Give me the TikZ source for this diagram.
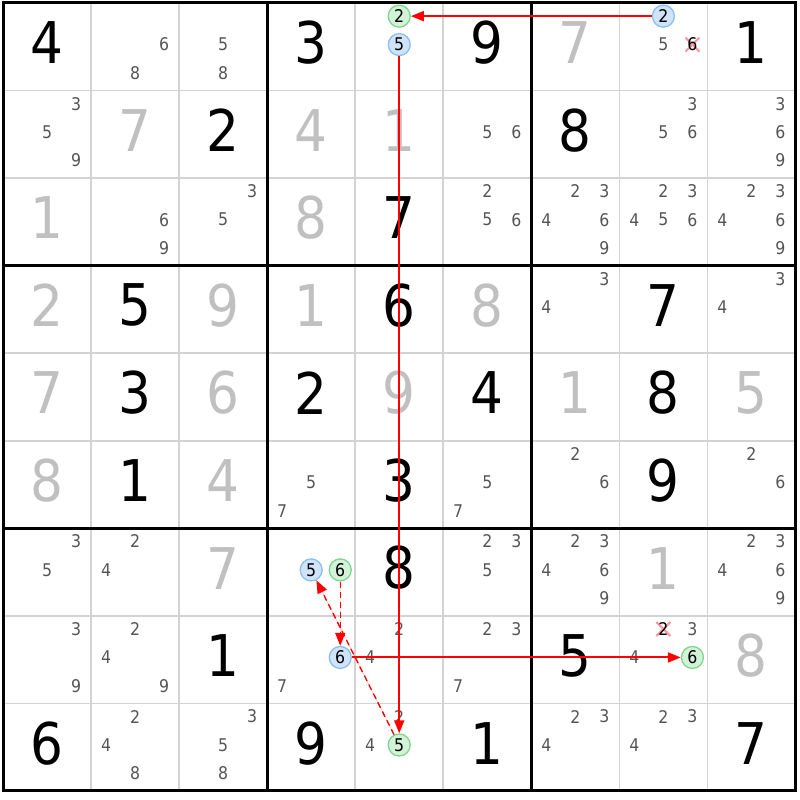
\documentclass[tikz,border=0pt]{standalone}
\usepackage{fontspec}
\setmainfont{DejaVu Sans Condensed}
\usepackage{xcolor}
\usetikzlibrary{arrows.meta}

\definecolor{solvedgray}{RGB}{192,192,192}
\definecolor{candgray}{RGB}{85,85,85}
\definecolor{thingray}{RGB}{211,211,211}
\definecolor{onfill}{RGB}{207,228,248}
\definecolor{ondraw}{RGB}{140,190,238}
\definecolor{offfill}{RGB}{210,243,216}
\definecolor{offdraw}{RGB}{128,214,140}
\definecolor{crosspink}{RGB}{245,150,160}
\definecolor{linkred}{RGB}{255,0,0}

\newcommand{\givendigit}[3]{\node[given] (v#1#2) at (#2+0.5,#1+0.454) {#3};}
\newcommand{\solved}[3]{\node[solved] (v#1#2) at (#2+0.5,#1+0.454) {#3};}
\newcommand{\cands}[4][]{%
  \foreach \d in {#4} {%
    \pgfmathsetmacro{\dx}{(mod(\d-1,3)-1)*0.33}%
    \pgfmathtruncatemacro{\rw}{(\d-1)/3}%
    \pgfmathsetmacro{\dy}{-0.35+0.325*\rw}%
    \node[cand,#1] (n#2#3\d) at (#3+0.5+\dx,#2+0.5+\dy) {\d};
  }}
\newcommand{\strikecand}[3]{%
  \pgfmathsetmacro{\dx}{(mod(#3-1,3)-1)*0.33}%
  \pgfmathtruncatemacro{\rw}{(#3-1)/3}%
  \pgfmathsetmacro{\dy}{-0.35+0.325*\rw}%
  \coordinate (x#1#2#3) at (#2+0.5+\dx,#1+0.5+\dy);
  \draw[crossline] ([shift={(-7pt,-7pt)}]x#1#2#3) -- ([shift={(7pt,7pt)}]x#1#2#3);
  \draw[crossline] ([shift={(-7pt,7pt)}]x#1#2#3) -- ([shift={(7pt,-7pt)}]x#1#2#3);
  \cands[crossed]{#1}{#2}{#3}}

\begin{document}
\begin{tikzpicture}[x=88.05pt, y=-87.55pt,
    given/.style={inner sep=0pt, font=\fontsize{57.5}{60}\selectfont, text=black},
    solved/.style={given, text=solvedgray},
    cand/.style={inner sep=0pt, font=\fontsize{17.5}{18}\selectfont, text=candgray},
    onring/.style={circle, draw=ondraw, fill=onfill, line width=1.3pt, minimum size=22pt, text=black},
    offring/.style={circle, draw=offdraw, fill=offfill, line width=1.3pt, minimum size=22pt, text=black},
    crossed/.style={text=black},
    crossline/.style={draw=crosspink, line width=2pt},
    thinline/.style={draw=thingray, line width=1.6pt},
    thickline/.style={draw=black, line width=3pt},
    strongarrow/.style={draw=linkred, fill=linkred, line width=1.9pt, -{Triangle[length=13pt,width=10pt]}},
    weakarrow/.style={strongarrow, line width=1.4pt, dash pattern=on 6pt off 4pt}]
    \useasboundingbox (-3/88.05,-3/87.55) rectangle (797/88.05,797/87.55);

    % grid
    \foreach \i in {1,2,4,5,7,8} {
        \draw[thinline] (\i,0) -- (\i,9);
        \draw[thinline] (0,\i) -- (9,\i);
    }
    \foreach \i in {3,6} {
        \draw[thickline] (\i,0) -- (\i,9);
        \draw[thickline] (0,\i) -- (9,\i);
    }
    \draw[thickline] (0,0) rectangle (9,9);

    % row 0
    \givendigit{0}{0}{4}
    \cands{0}{1}{6,8}
    \cands{0}{2}{5,8}
    \givendigit{0}{3}{3}
    \cands[offring]{0}{4}{2}
    \cands[onring]{0}{4}{5}
    \givendigit{0}{5}{9}
    \solved{0}{6}{7}
    \cands[onring]{0}{7}{2}
    \cands{0}{7}{5}
    \strikecand{0}{7}{6}
    \givendigit{0}{8}{1}

    % row 1
    \cands{1}{0}{3,5,9}
    \solved{1}{1}{7}
    \givendigit{1}{2}{2}
    \solved{1}{3}{4}
    \solved{1}{4}{1}
    \cands{1}{5}{5,6}
    \givendigit{1}{6}{8}
    \cands{1}{7}{3,5,6}
    \cands{1}{8}{3,6,9}

    % row 2
    \solved{2}{0}{1}
    \cands{2}{1}{6,9}
    \cands{2}{2}{3,5}
    \solved{2}{3}{8}
    \givendigit{2}{4}{7}
    \cands{2}{5}{2,5,6}
    \cands{2}{6}{2,3,4,6,9}
    \cands{2}{7}{2,3,4,5,6}
    \cands{2}{8}{2,3,4,6,9}

    % row 3
    \solved{3}{0}{2}
    \givendigit{3}{1}{5}
    \solved{3}{2}{9}
    \solved{3}{3}{1}
    \givendigit{3}{4}{6}
    \solved{3}{5}{8}
    \cands{3}{6}{3,4}
    \givendigit{3}{7}{7}
    \cands{3}{8}{3,4}

    % row 4
    \solved{4}{0}{7}
    \givendigit{4}{1}{3}
    \solved{4}{2}{6}
    \givendigit{4}{3}{2}
    \solved{4}{4}{9}
    \givendigit{4}{5}{4}
    \solved{4}{6}{1}
    \givendigit{4}{7}{8}
    \solved{4}{8}{5}

    % row 5
    \solved{5}{0}{8}
    \givendigit{5}{1}{1}
    \solved{5}{2}{4}
    \cands{5}{3}{5,7}
    \givendigit{5}{4}{3}
    \cands{5}{5}{5,7}
    \cands{5}{6}{2,6}
    \givendigit{5}{7}{9}
    \cands{5}{8}{2,6}

    % row 6
    \cands{6}{0}{3,5}
    \cands{6}{1}{2,4}
    \solved{6}{2}{7}
    \cands[onring]{6}{3}{5}
    \cands[offring]{6}{3}{6}
    \givendigit{6}{4}{8}
    \cands{6}{5}{2,3,5}
    \cands{6}{6}{2,3,4,6,9}
    \solved{6}{7}{1}
    \cands{6}{8}{2,3,4,6,9}

    % row 7
    \cands{7}{0}{3,9}
    \cands{7}{1}{2,4,9}
    \givendigit{7}{2}{1}
    \cands[onring]{7}{3}{6}
    \cands{7}{3}{7}
    \cands{7}{4}{2,4}
    \cands{7}{5}{2,3,7}
    \givendigit{7}{6}{5}
    \strikecand{7}{7}{2}
    \cands{7}{7}{3,4}
    \cands[offring]{7}{7}{6}
    \solved{7}{8}{8}

    % row 8
    \givendigit{8}{0}{6}
    \cands{8}{1}{2,4,8}
    \cands{8}{2}{3,5,8}
    \givendigit{8}{3}{9}
    \cands{8}{4}{2,4}
    \cands[offring]{8}{4}{5}
    \givendigit{8}{5}{1}
    \cands{8}{6}{2,3,4}
    \cands{8}{7}{2,3,4}
    \givendigit{8}{8}{7}

    % links
    \draw[strongarrow] (n072) -- (n042);
    \draw[strongarrow] (n045) -- (n845);
    \draw[strongarrow] (n736) -- (n776);
    \draw[weakarrow] (n636) -- (n736);
    \draw[weakarrow] (n845) -- (n635);
\end{tikzpicture}
\end{document}
